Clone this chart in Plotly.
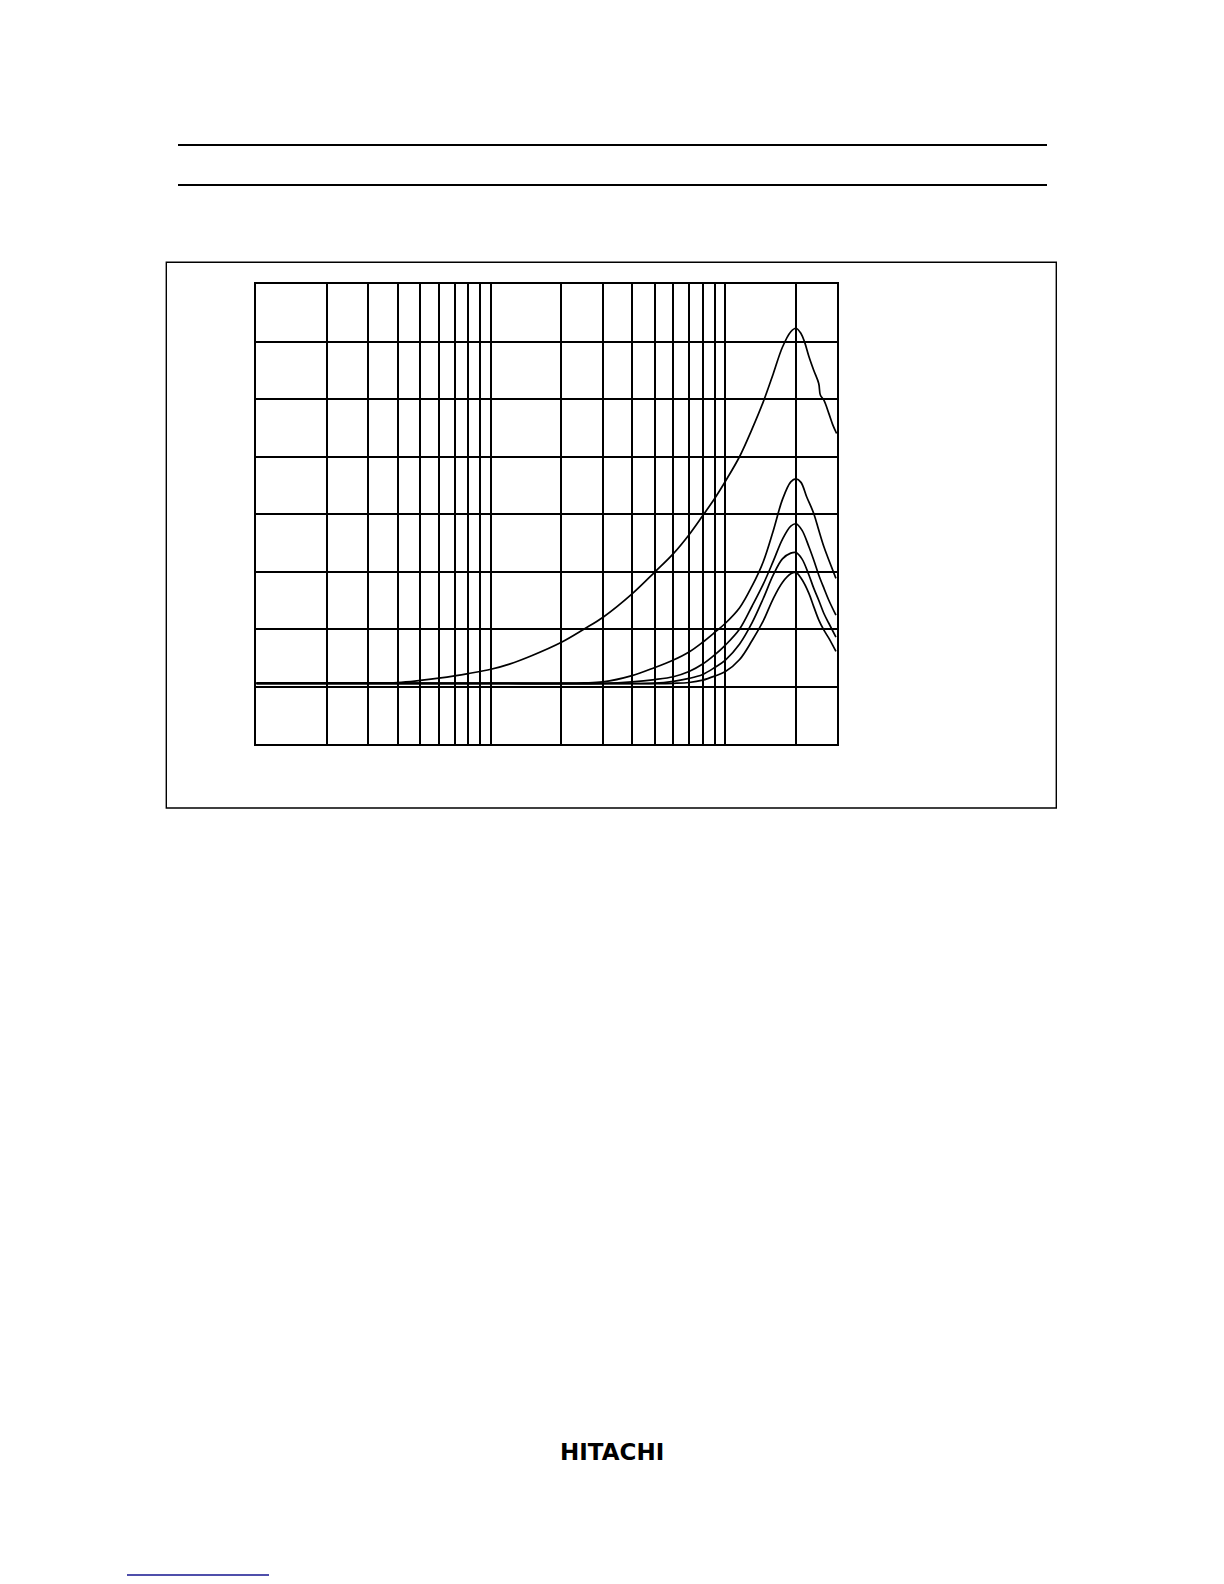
import plotly.graph_objects as go

# page has an 8px body margin; figure fills the rest of the window
OFF = 8
W, H = 1224 - OFF, 1584 - OFF

# x grid (log scale), y grid (linear, 8 divisions)
x_grid = [1, 2, 3, 4, 5, 6, 7, 8, 9, 10, 20, 30, 40, 50, 60, 70, 80, 90, 100, 200, 300]
y_grid = [0, 1, 2, 3, 4, 5, 6, 7, 8]

c1_x = [1, 2, 3, 4, 5, 6, 7, 8, 10, 12, 15, 20, 25, 30, 40, 50, 60, 70, 80, 90, 100, 115, 130, 145, 160, 175, 190, 200, 210, 218, 227, 238, 250, 254, 263, 276, 287, 298]
c1_y = [1.062, 1.062, 1.062, 1.068, 1.105, 1.145, 1.185, 1.225, 1.30, 1.39, 1.54, 1.77, 2.00, 2.20, 2.61, 2.99, 3.31, 3.64, 3.97, 4.27, 4.57, 5.00, 5.48, 5.95, 6.44, 6.90, 7.17, 7.23, 7.14, 6.98, 6.74, 6.50, 6.27, 6.07, 5.98, 5.75, 5.55, 5.40]

c2_x = [1, 10, 20, 25, 30, 40, 50, 60, 70, 80, 90, 100, 115, 130, 145, 160, 175, 190, 200, 210, 222, 238, 250, 263, 276, 296]
c2_y = [1.058, 1.058, 1.058, 1.063, 1.08, 1.19, 1.33, 1.46, 1.60, 1.77, 1.94, 2.10, 2.37, 2.75, 3.17, 3.71, 4.25, 4.56, 4.61, 4.55, 4.30, 4.01, 3.72, 3.43, 3.20, 2.88]

c3_x = [1, 10, 30, 40, 50, 60, 70, 80, 90, 100, 115, 130, 145, 160, 175, 190, 200, 212, 227, 238, 250, 263, 276, 296]
c3_y = [1.054, 1.054, 1.055, 1.08, 1.12, 1.17, 1.26, 1.39, 1.55, 1.72, 2.00, 2.40, 2.78, 3.18, 3.56, 3.79, 3.83, 3.72, 3.43, 3.20, 2.94, 2.71, 2.50, 2.24]

c4_x = [1, 10, 40, 50, 60, 70, 80, 90, 100, 115, 130, 145, 160, 175, 190, 200, 212, 227, 238, 250, 263, 276, 296]
c4_y = [1.052, 1.052, 1.052, 1.057, 1.09, 1.14, 1.21, 1.33, 1.46, 1.74, 2.11, 2.53, 2.94, 3.22, 3.32, 3.33, 3.22, 2.94, 2.71, 2.50, 2.27, 2.10, 1.86]

c5_x = [1, 10, 50, 60, 70, 80, 90, 100, 115, 130, 145, 160, 175, 190, 200, 212, 227, 238, 250, 263, 276, 296]
c5_y = [1.050, 1.050, 1.050, 1.056, 1.07, 1.11, 1.18, 1.26, 1.47, 1.80, 2.14, 2.53, 2.81, 2.96, 2.98, 2.86, 2.62, 2.39, 2.16, 1.98, 1.84, 1.61]

curves = [(c1_x, c1_y), (c2_x, c2_y), (c3_x, c3_y), (c4_x, c4_y), (c5_x, c5_y)]

fig = go.Figure()
for cx, cy in curves:
    fig.add_trace(go.Scatter(x=cx, y=cy, mode="lines",
                             line=dict(color="black", width=1.7, shape="spline", smoothing=1.0),
                             showlegend=False, hoverinfo="skip"))

def px(xp):
    return (xp - OFF) / W

def py(yp):
    return 1 - (yp - OFF) / H

fig.update_layout(
    width=W, height=H, autosize=False,
    margin=dict(l=0, r=0, t=0, b=0),
    paper_bgcolor="white", plot_bgcolor="white",
    showlegend=False,
    xaxis=dict(type="log", range=[0, 2.4771], domain=[px(256.3), px(837.3)],
               tickmode="array", tickvals=x_grid, showticklabels=False, ticks="",
               showgrid=True, gridcolor="black", gridwidth=1.5,
               showline=True, linecolor="black", linewidth=1.5, mirror=True, zeroline=False),
    yaxis=dict(range=[0, 8], domain=[py(744), py(284)],
               tickmode="array", tickvals=y_grid, showticklabels=False, ticks="",
               showgrid=True, gridcolor="black", gridwidth=1.5,
               showline=True, linecolor="black", linewidth=1.5, mirror=True, zeroline=False),
    shapes=[
        dict(type="rect", xref="paper", yref="paper", x0=px(166.3), x1=px(1056.3),
             y0=py(808), y1=py(262.3), line=dict(color="black", width=1.4)),
        dict(type="line", xref="paper", yref="paper", x0=px(178), x1=px(1047),
             y0=py(145), y1=py(145), line=dict(color="black", width=2.2)),
        dict(type="line", xref="paper", yref="paper", x0=px(178), x1=px(1047),
             y0=py(185), y1=py(185), line=dict(color="black", width=2.2)),
        dict(type="line", xref="paper", yref="paper", x0=px(127), x1=px(269),
             y0=py(1575), y1=py(1575), line=dict(color="#14148f", width=1.5)),
    ],
    annotations=[
        dict(text="<b>HITACHI</b>", xref="paper", yref="paper", x=px(612), y=py(1451.5),
             xanchor="center", yanchor="middle", showarrow=False,
             font=dict(family="DejaVu Sans", size=23, color="black")),
    ],
)

fig.write_html("out.html")
